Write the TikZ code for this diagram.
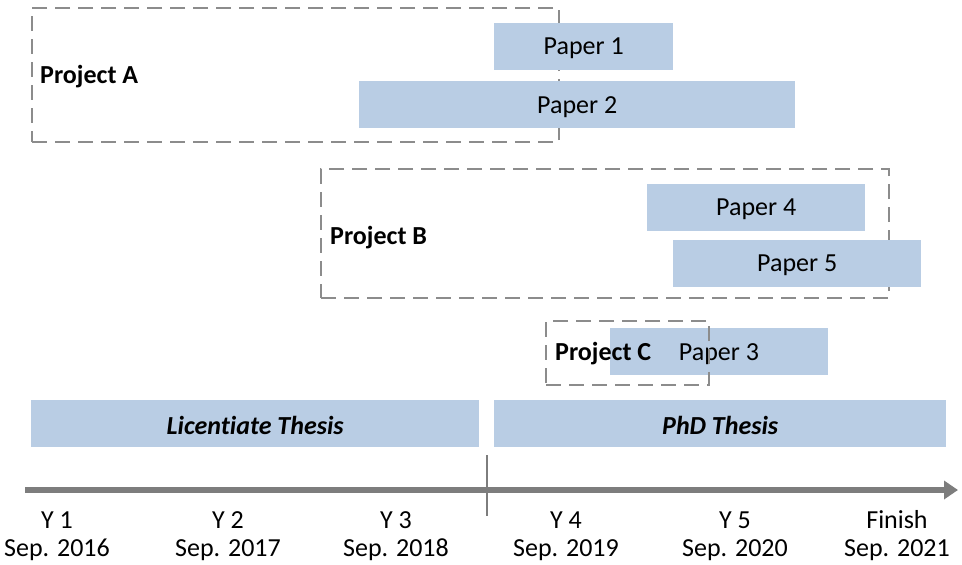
\documentclass[tikz,border=0pt]{standalone}
\usepackage{fontspec}
\setmainfont[Ligatures=NoCommon]{Carlito}
\usetikzlibrary{arrows.meta}
\definecolor{barblue}{RGB}{185,205,228}
\definecolor{dashgray}{RGB}{140,140,140}
\definecolor{axisgray}{RGB}{125,125,125}
\tikzset{
  bar/.style={fill=barblue, draw=none, inner sep=0pt, anchor=north west},
  projbox/.style={draw=dashgray, line width=2.2pt, dash pattern=on 15pt off 8pt, inner sep=0pt, anchor=north west},
  projlabel/.style={anchor=west, inner sep=0pt, yshift=-2pt, font=\fontsize{26}{30}\selectfont\bfseries},
  bartext/.style={inner sep=0pt, yshift=-2pt, font=\fontsize{26}{30}\selectfont},
  thesistext/.style={inner sep=0pt, yshift=-2pt, font=\fontsize{26}{30}\selectfont\bfseries\itshape},
  yeartext/.style={inner sep=0pt, font=\fontsize{26}{30}\selectfont, align=center},
  axisline/.style={draw=axisgray, line width=6pt, -{Triangle[length=14pt,width=18pt]}},
  divider/.style={draw=axisgray, line width=2pt}
}
\newcommand{\barbox}[6]{% name, x0, y0, x1, y1, text
  \node[bar, minimum width=#4pt-#2pt, minimum height=#5pt-#3pt] (#1) at (#2,#3) {};
  \node[bartext] at (#1.center) {#6};
}
\begin{document}
\begin{tikzpicture}[x=1pt, y=-1pt]
  \useasboundingbox (0,0) rectangle (962,565);

  % Project A with its two papers
  \node[projbox, minimum width=527pt, minimum height=134pt] (boxA) at (31,7) {};
  \node[projlabel] (labA) at (40,75) {Project A};
  \barbox{p1}{494}{23}{673}{70}{Paper 1}
  \barbox{p2}{359}{81}{795}{128}{Paper 2}

  % Project B with its two papers
  \node[projbox, minimum width=568pt, minimum height=129pt] (boxB) at (320,168) {};
  \node[projlabel] (labB) at (330,236) {Project B};
  \barbox{p4}{647}{184}{865}{231}{Paper 4}
  \barbox{p5}{673}{240}{921}{287}{Paper 5}

  % Project C, drawn over its paper
  \barbox{p3}{610}{328}{828}{375}{}
  \node[bartext] at (719,352) {Paper 3};
  \node[projbox, minimum width=163pt, minimum height=64pt] (boxC) at (545,320) {};
  \node[projlabel] (labC) at (555,352) {Project C};

  % Theses
  \node[bar, minimum width=448pt, minimum height=47pt] (lic) at (31,400) {};
  \node[thesistext] at (lic.center) {Licentiate Thesis};
  \node[bar, minimum width=452pt, minimum height=47pt] (phd) at (494,400) {};
  \node[thesistext] at (phd.center) {PhD Thesis};

  % Time axis
  \coordinate (axs) at (25,490);
  \coordinate (axe) at (958,490);
  \draw[axisline] (axs) -- (axe);
  \coordinate (tka) at (487,455);
  \coordinate (tkb) at (487,516);
  \draw[divider] (tka) -- (tkb);

  % Year labels
  \node[yeartext] (y1) at (57,520) {Y 1};
  \node[yeartext] (d1) at (57,550) {Sep. 2016};
  \node[yeartext] (y2) at (228,520) {Y 2};
  \node[yeartext] (d2) at (228,550) {Sep. 2017};
  \node[yeartext] (y3) at (396,520) {Y 3};
  \node[yeartext] (d3) at (396,550) {Sep. 2018};
  \node[yeartext] (y4) at (566,520) {Y 4};
  \node[yeartext] (d4) at (566,550) {Sep. 2019};
  \node[yeartext] (y5) at (735,520) {Y 5};
  \node[yeartext] (d5) at (735,550) {Sep. 2020};
  \node[yeartext] (y6) at (897,520) {Finish};
  \node[yeartext] (d6) at (897,550) {Sep. 2021};
\end{tikzpicture}
\end{document}
